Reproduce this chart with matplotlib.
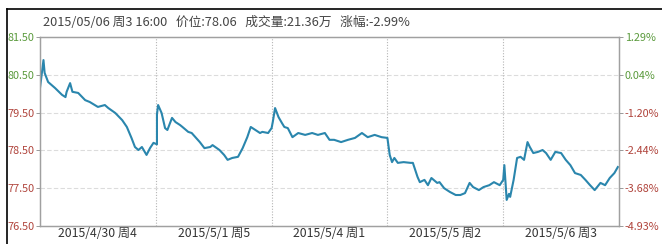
import matplotlib
matplotlib.use("Agg")
import matplotlib.pyplot as plt
from matplotlib.lines import Line2D

plt.rcParams['font.family'] = ['Noto Sans CJK SC', 'DejaVu Sans']

# ---- data ----
day_labels = ["2015/4/30 周4", "2015/5/1 周5", "2015/5/4 周1", "2015/5/5 周2", "2015/5/6 周3"]
price_ticks = [76.50, 77.50, 78.50, 79.50, 80.50, 81.50]
price_tick_labels = ["76.50", "77.50", "78.50", "79.50", "80.50", "81.50"]
pct_tick_labels = ["-4.93%", "-3.68%", "-2.44%", "-1.20%", "0.04%", "1.29%"]
title_text = "2015/05/06 周3 16:00   价位:78.06   成交量:21.36万   涨幅:-2.99%"

# time in trading days (0..5), price
times = [0.00, 0.03, 0.04, 0.07, 0.13, 0.19, 0.22, 0.23, 0.26, 0.28, 0.33, 0.39, 0.43, 0.50,
         0.56, 0.59, 0.65, 0.71, 0.75, 0.79, 0.82, 0.85, 0.88, 0.92, 0.95, 0.98, 1.01,
         1.01, 1.02, 1.05, 1.08, 1.10, 1.11, 1.14, 1.17, 1.21, 1.23, 1.28, 1.31, 1.38,
         1.42, 1.47, 1.49, 1.55, 1.59, 1.62, 1.66, 1.71, 1.75, 1.79, 1.82, 1.86, 1.90,
         1.92, 1.97, 2.00,
         2.01, 2.03, 2.06, 2.09, 2.11, 2.14, 2.18, 2.23, 2.29, 2.35, 2.40, 2.46, 2.50,
         2.54, 2.60, 2.66, 2.72, 2.78, 2.83, 2.89, 2.95, 3.00,
         3.02, 3.04, 3.06, 3.09, 3.14, 3.20, 3.22, 3.26, 3.28, 3.32, 3.35, 3.38, 3.43,
         3.45, 3.49, 3.54, 3.59, 3.63, 3.67, 3.71, 3.74, 3.79, 3.83, 3.88, 3.92, 3.97,
         4.00, 4.01, 4.03, 4.05, 4.06, 4.09, 4.12, 4.15, 4.18, 4.21, 4.23, 4.26, 4.30,
         4.34, 4.37, 4.41, 4.45, 4.50, 4.54, 4.58, 4.62, 4.67, 4.71, 4.75, 4.79, 4.84,
         4.88, 4.92, 4.96, 4.99]
prices = [80.15, 80.89, 80.55, 80.31, 80.15, 79.97, 79.91, 80.05, 80.28, 80.05, 80.02, 79.83,
          79.78, 79.65, 79.70, 79.62, 79.49, 79.30, 79.12, 78.83, 78.59, 78.51, 78.59, 78.38,
          78.56, 78.70, 78.66,
          79.45, 79.70, 79.49, 79.09, 79.04, 79.12, 79.36, 79.25, 79.17, 79.12, 78.99, 78.96,
          78.72, 78.56, 78.59, 78.64, 78.51, 78.38, 78.25, 78.30, 78.33, 78.56, 78.85, 79.12,
          79.04, 78.96, 78.99, 78.96, 79.09,
          79.25, 79.62, 79.38, 79.22, 79.12, 79.09, 78.85, 78.96, 78.91, 78.96, 78.91, 78.96,
          78.78, 78.78, 78.72, 78.78, 78.83, 78.96, 78.85, 78.91, 78.85, 78.83,
          78.38, 78.19, 78.30, 78.17, 78.19, 78.17, 78.17, 77.80, 77.66, 77.72, 77.58, 77.77,
          77.64, 77.66, 77.50, 77.40, 77.32, 77.32, 77.37, 77.64, 77.53, 77.45, 77.53, 77.58,
          77.66, 77.58,
          77.72, 78.11, 77.19, 77.35, 77.27, 77.72, 78.30, 78.33, 78.25, 78.72, 78.59, 78.43,
          78.46, 78.51, 78.43, 78.25, 78.46, 78.43, 78.25, 78.11, 77.90, 77.85, 77.72, 77.58,
          77.45, 77.64, 77.58, 77.77, 77.90, 78.06]

green = '#5a9a3c'
red = '#b0443c'
label_colors = [red, red, red, red, green, green]

fig = plt.figure(figsize=(6.62, 2.44), dpi=100)
ax = fig.add_axes([40/662, 1-226/244, (619-40)/662, (226-37)/244])

ax.plot(times, prices, color='#2a86ad', lw=1.5, solid_joinstyle='round')

ax.set_xlim(0, 5)
ax.set_ylim(price_ticks[0], price_ticks[-1])

for yv in price_ticks[1:-1]:
    ax.axhline(yv, color='#dcdcdc', lw=0.8, ls=(0, (4, 2)), zorder=0)
for d in range(1, 5):
    ax.axvline(d, color='#b5b5b5', lw=0.8, ls=(0, (1, 1.5)), zorder=0)

ax.set_yticks(price_ticks)
ax.set_yticklabels(price_tick_labels, fontsize=7.8)
for t, c in zip(ax.get_yticklabels(), label_colors):
    t.set_color(c)
ax.set_xticks([d + 0.5 for d in range(5)])
ax.set_xticklabels(day_labels, fontsize=8.8, color='#333333')
ax.tick_params(axis='x', length=0, pad=1)
ax.tick_params(axis='y', length=3, width=0.7, color='#999999', pad=1)

for s in ax.spines.values():
    s.set_color('#a0a0a0')
    s.set_linewidth(0.9)

ax2 = ax.twinx()
ax2.set_ylim(price_ticks[0], price_ticks[-1])
ax2.set_yticks(price_ticks)
ax2.set_yticklabels(pct_tick_labels, fontsize=7.8)
for t, c in zip(ax2.get_yticklabels(), label_colors):
    t.set_color(c)
ax2.tick_params(axis='y', length=3, width=0.7, color='#999999', pad=1)
for s in ax2.spines.values():
    s.set_color('#a0a0a0')
    s.set_linewidth(0.9)

fig.text(43/662, 1-22/244, title_text, fontsize=9.2, color='#444444', va='center', ha='left')

# outer black frame
fig.add_artist(Line2D([7/662, 1.0], [1-9/244, 1-9/244], color='black', lw=1.2, transform=fig.transFigure))
fig.add_artist(Line2D([7/662, 7/662], [0, 1-9/244], color='black', lw=1.2, transform=fig.transFigure))

fig.savefig('out.png', dpi=100)
